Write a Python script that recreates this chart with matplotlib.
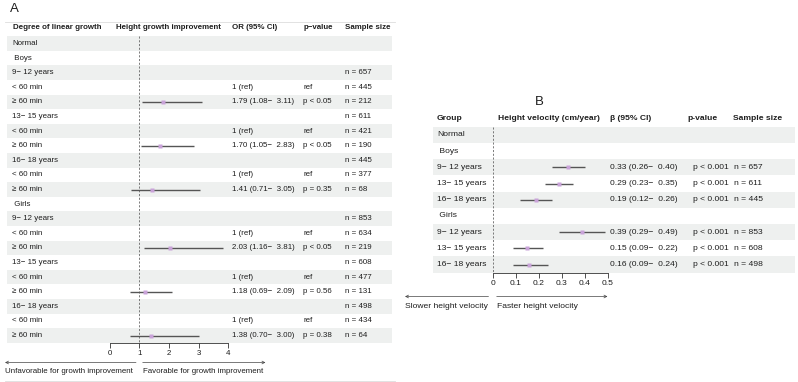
import matplotlib
matplotlib.use("Agg")
import matplotlib.pyplot as plt
import matplotlib.transforms as mtransforms

plt.rcParams['font.family'] = ['Liberation Sans', 'DejaVu Sans']

# ---- panel A data: odds ratios for >= 60 min vs < 60 min ----
ages = ["9\u2212 12 years", "13\u2212 15 years", "16\u2212 18 years"]
sexes = ["Boys", "Girls"]
or_est = [[1.79, 1.70, 1.41], [2.03, 1.18, 1.38]]
or_lo = [[1.08, 1.05, 0.71], [1.16, 0.69, 0.70]]
or_hi = [[3.11, 2.83, 3.05], [3.81, 2.09, 3.00]]
or_p = [["p < 0.05", "p < 0.05", "p = 0.35"], ["p < 0.05", "p = 0.56", "p = 0.38"]]
n_total = [[657, 611, 445], [853, 608, 498]]
n_low = [[445, 421, 377], [634, 477, 434]]
n_high = [[212, 190, 68], [219, 131, 64]]
or_ticks = [0, 1, 2, 3, 4]

# ---- panel B data: beta for height velocity ----
beta_est = [[0.33, 0.29, 0.19], [0.39, 0.15, 0.16]]
beta_lo = [[0.26, 0.23, 0.12], [0.29, 0.09, 0.09]]
beta_hi = [[0.40, 0.35, 0.26], [0.49, 0.22, 0.24]]
beta_p = "p < 0.001"
beta_ticks = [0, 0.1, 0.2, 0.3, 0.4, 0.5]

W, H = 798, 382
SHADE = '#eef0ef'
TXT = '#1e1e1e'
LINE = '#555555'
PT = '#c9a3d9'

fig = plt.figure(figsize=(W / 100, H / 100), dpi=100)


def add_ax(x0, x1, ytop, ybot):
    return fig.add_axes([x0 / W, 1 - ybot / H, (x1 - x0) / W, (ybot - ytop) / H])


def style_axis(ax, ticks, fs):
    for s in ['top', 'left', 'right']:
        ax.spines[s].set_visible(False)
    ax.spines['bottom'].set_bounds(ticks[0], ticks[-1])
    ax.spines['bottom'].set_linewidth(0.6)
    ax.spines['bottom'].set_color('#333333')
    ax.set_xticks(ticks)
    ax.set_xticklabels([f"{t:g}" for t in ticks])
    ax.tick_params(axis='x', length=3.5, width=0.6, pad=1.5, labelsize=fs,
                   colors='#333333', labelcolor=TXT)
    ax.set_yticks([])
    ax.patch.set_alpha(0)


# =================== panel A ===================
fsA = 5.7
axA = add_ax(7, 392, 17.95, 342.8)
axA.set_xlim(-3.461, 9.515)
axA.set_ylim(20.5, -1.75)
style_axis(axA, or_ticks, fsA)
trA = mtransforms.blended_transform_factory(fig.transFigure, axA.transData)

rowsA = [("Normal", None)]
for si, sex in enumerate(sexes):
    rowsA.append((" " + sex, None))
    for ai, age in enumerate(ages):
        rowsA.append((age, ("age", si, ai)))
        rowsA.append(("< 60 min", ("low", si, ai)))
        rowsA.append(("\u2265 60 min", ("high", si, ai)))

for i, (label, info) in enumerate(rowsA):
    if i % 2 == 0:
        axA.axhspan(i - 0.5, i + 0.5, color=SHADE, lw=0, zorder=0)
    axA.text(12.5 / W, i, label, transform=trA, fontsize=fsA, va='center', color=TXT)
    if info is None:
        continue
    kind, si, ai = info
    if kind == "age":
        axA.text(345 / W, i, f"n = {n_total[si][ai]}", transform=trA, fontsize=fsA, va='center', color=TXT)
    elif kind == "low":
        axA.text(232.3 / W, i, "1 (ref)", transform=trA, fontsize=fsA, va='center', color=TXT)
        axA.text(303.3 / W, i, "ref", transform=trA, fontsize=fsA, va='center', color=TXT)
        axA.text(345 / W, i, f"n = {n_low[si][ai]}", transform=trA, fontsize=fsA, va='center', color=TXT)
    else:
        axA.plot([or_lo[si][ai], or_hi[si][ai]], [i, i], color=LINE, lw=1.0, solid_capstyle='butt', zorder=3)
        axA.plot(or_est[si][ai], i, 's', ms=2.3, color=PT, mec='none', zorder=4)
        axA.text(232.3 / W, i, f"{or_est[si][ai]:.2f} ({or_lo[si][ai]:.2f}\u2212  {or_hi[si][ai]:.2f})",
                 transform=trA, fontsize=fsA, va='center', color=TXT)
        axA.text(303.3 / W, i, or_p[si][ai], transform=trA, fontsize=fsA, va='center', color=TXT)
        axA.text(345 / W, i, f"n = {n_high[si][ai]}", transform=trA, fontsize=fsA, va='center', color=TXT)

axA.plot([1, 1], [-0.5, 20.5], color='#666666', lw=0.6, dashes=(2.5, 2), zorder=2)

hdrA = [(12.7, "Degree of linear growth"), (115.7, "Height growth improvement"),
        (232.3, "OR (95% CI)"), (303.3, "p\u2212value"), (345, "Sample size")]
for xp, t in hdrA:
    axA.text(xp / W, -1.11, t, transform=trA, fontsize=fsA, va='center', fontweight='bold', color=TXT)

arrow = dict(arrowstyle='->', lw=0.5, color='#444444', mutation_scale=5, shrinkA=0, shrinkB=0)
fig.add_artist(plt.Line2D([5 / W, 395 / W], [1 - 21.5 / H] * 2, color='#dddddd', lw=0.6))
fig.add_artist(plt.Line2D([5 / W, 395 / W], [1 - 381 / H] * 2, color='#dddddd', lw=0.6))
axA.annotate('', xy=(5, H - 362.5), xytext=(136, H - 362.5), xycoords='figure pixels', arrowprops=arrow)
axA.annotate('', xy=(265.5, H - 362.5), xytext=(142.7, H - 362.5), xycoords='figure pixels', arrowprops=arrow)
fig.text(5 / W, 1 - 371.5 / H, "Unfavorable for growth improvement", fontsize=fsA, va='center', color=TXT)
fig.text(142.7 / W, 1 - 371.5 / H, "Favorable for growth improvement", fontsize=fsA, va='center', color=TXT)
fig.text(10 / W, 1 - 9 / H, "A", fontsize=9.5, va='center', color=TXT)

# =================== panel B ===================
fsB = 6.1
axB = add_ax(433, 795, 105.8, 273)
axB.set_xlim(-0.2587, 1.3152)
axB.set_ylim(8.52, -1.8)
style_axis(axB, beta_ticks, fsB)
trB = mtransforms.blended_transform_factory(fig.transFigure, axB.transData)

rowsB = [("Normal", None)]
for si, sex in enumerate(sexes):
    rowsB.append((" " + sex, None))
    for ai, age in enumerate(ages):
        rowsB.append((age, (si, ai)))

for i, (label, info) in enumerate(rowsB):
    if i % 2 == 0:
        axB.axhspan(i - 0.5, i + 0.5, color=SHADE, lw=0, zorder=0)
    axB.text(437 / W, i, label, transform=trB, fontsize=fsB, va='center', color=TXT)
    if info is None:
        continue
    si, ai = info
    axB.plot([beta_lo[si][ai], beta_hi[si][ai]], [i, i], color=LINE, lw=1.0, solid_capstyle='butt', zorder=3)
    axB.plot(beta_est[si][ai], i, 's', ms=2.3, color=PT, mec='none', zorder=4)
    axB.text(610.5 / W, i, f"{beta_est[si][ai]:.2f} ({beta_lo[si][ai]:.2f}\u2212  {beta_hi[si][ai]:.2f})",
             transform=trB, fontsize=fsB, va='center', color=TXT)
    axB.text(693.3 / W, i, beta_p, transform=trB, fontsize=fsB, va='center', color=TXT)
    axB.text(734.3 / W, i, f"n = {n_total[si][ai]}", transform=trB, fontsize=fsB, va='center', color=TXT)

axB.plot([0, 0], [-0.5, 8.5], color='#666666', lw=0.6, dashes=(2.5, 2), zorder=2)

hdrB = [(437, "Group"), (498.3, "Height velocity (cm/year)"), (610, "\u03b2 (95% CI)"),
        (687.3, "p-value"), (733.3, "Sample size")]
for xp, t in hdrB:
    axB.text(xp / W, -1.04, t, transform=trB, fontsize=fsB, va='center', fontweight='bold', color=TXT)

axB.annotate('', xy=(405, H - 296.5), xytext=(488.5, H - 296.5), xycoords='figure pixels', arrowprops=arrow)
axB.annotate('', xy=(607.5, H - 296.5), xytext=(496.7, H - 296.5), xycoords='figure pixels', arrowprops=arrow)
fig.text(405 / W, 1 - 306.5 / H, "Slower height velocity", fontsize=fsB, va='center', color=TXT)
fig.text(496.7 / W, 1 - 306.5 / H, "Faster height velocity", fontsize=fsB, va='center', color=TXT)
fig.text(535 / W, 1 - 102 / H, "B", fontsize=9.5, va='center', color=TXT)

fig.savefig("out.png", dpi=100)
